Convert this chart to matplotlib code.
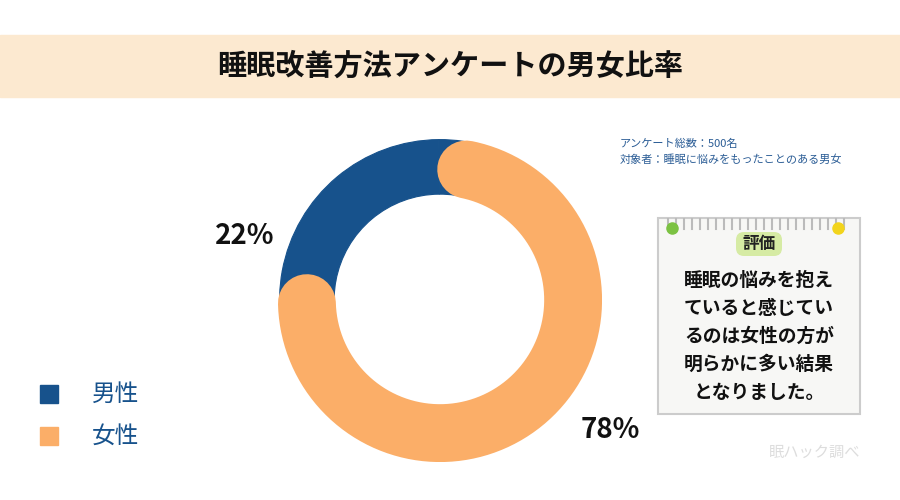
import matplotlib
matplotlib.use("Agg")
import numpy as np
import matplotlib.pyplot as plt
from matplotlib.patches import Rectangle, FancyBboxPatch

plt.rcParams["font.family"] = "Noto Sans CJK JP"

categories = ["男性", "女性"]
values = [22, 78]
labels = ["22%", "78%"]
colors = ["#17528C", "#FBAE68"]

fig = plt.figure(figsize=(9, 5), dpi=100)
bg = fig.add_axes([0, 0, 1, 1])
bg.set_xlim(0, 900); bg.set_ylim(500, 0); bg.axis("off")

bg.add_patch(Rectangle((0, 35), 900, 62, color="#FCE9D0", zorder=0))
bg.text(450, 66, "睡眠改善方法アンケートの男女比率", ha="center", va="center",
        fontsize=21, fontweight="bold", color="#111111")

bg.text(620, 144, "アンケート総数：500名", fontsize=8, color="#2A5C95", va="center")
bg.text(620, 160, "対象者：睡眠に悩みをもったことのある男女", fontsize=8, color="#2A5C95", va="center")

# note card
bg.add_patch(Rectangle((658, 218), 202, 196, facecolor="#F7F7F5", edgecolor="#CCCCCC", lw=1.5))
for x in range(668, 850, 8):
    bg.plot([x, x], [219, 229], color="#BBBBBB", lw=1.5)
bg.add_patch(FancyBboxPatch((736, 232), 46, 24, boxstyle="round,pad=0,rounding_size=8",
                            facecolor="#D6EBA4", edgecolor="none"))
bg.text(759, 244, "評価", ha="center", va="center", fontsize=12, fontweight="bold", color="#222222")
bg.plot([672], [228], marker="o", color="#7CC242", ms=8)
bg.plot([838], [228], marker="o", color="#F2D41C", ms=8)
note = ["睡眠の悩みを抱え", "ていると感じてい", "るのは女性の方が", "明らかに多い結果", "となりました。"]
for i, line in enumerate(note):
    bg.text(759, 280 + i * 28, line, ha="center", va="center", fontsize=13.5,
            fontweight="bold", color="#111111")

bg.text(815, 452, "眠ハック調べ", ha="center", va="center", fontsize=11, color="#DDDDDD")

# legend
for i, (c, col) in enumerate(zip(categories, colors)):
    y = 394 + i * 42
    bg.add_patch(Rectangle((40, y - 9), 18, 18, color=col))
    bg.text(92, y, c, va="center", fontsize=17, color="#17528C")

bg.text(245, 236, labels[0], ha="center", va="center", fontsize=20, fontweight="bold", color="#111111")
bg.text(610, 430, labels[1], ha="center", va="center", fontsize=20, fontweight="bold", color="#111111")

ax = fig.add_axes([278 / 900, 38 / 500, 324 / 900, 324 / 500])
start = 130 - values[0] / 100 * 360 / 2
width = 0.34
wedges, _ = ax.pie(values, colors=colors, startangle=start, counterclock=True,
                   wedgeprops=dict(width=width, edgecolor="none"))
# blue ring underneath, orange segment drawn as arc with rounded ends
for w in wedges:
    w.set_facecolor(colors[0])
    w.set_edgecolor(colors[0])
    w.set_linewidth(0.8)
rmid = 1 - width / 2
ring_px = width * 162
cap_deg = np.degrees((ring_px / 2) / (rmid * 162))
t1 = wedges[1].theta1 + cap_deg
t2 = wedges[1].theta2 - cap_deg
th = np.radians(np.linspace(t1, t2, 400))
ax.plot(rmid * np.cos(th), rmid * np.sin(th), color=colors[1], lw=ring_px * 0.72 + 2.0,
        solid_capstyle="round")
ax.set_xlim(-1.01, 1.01); ax.set_ylim(-1.01, 1.01)
ax.set_aspect("equal")

fig.savefig("out.png", dpi=100)
